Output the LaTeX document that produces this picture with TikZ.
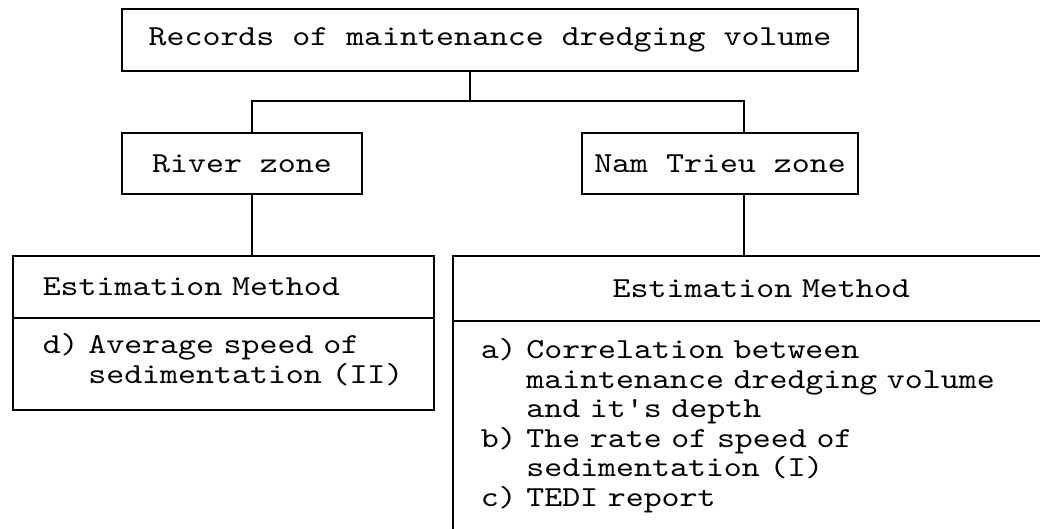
\documentclass[tikz,border=0pt]{standalone}
\usepackage{fontspec}
\setmonofont{lmmono10-regular.otf}[FakeStretch=1.18]
\begin{document}
\begin{tikzpicture}[x=1pt, y=-1pt,
    box/.style={draw, line width=1.5pt, inner sep=0pt},
    link/.style={line width=1.5pt},
    font=\ttfamily\fontsize{29}{29.5}\selectfont]
    % Frame of the chart
    \clip[use as bounding box] (0,0) rectangle (1040,528);

    % Records and the two zones
    \node[box, minimum width=736pt, minimum height=62pt] (records) at (490,40) {Records of maintenance dredging volume};
    \node[box, minimum width=240pt, minimum height=61pt] (river) at (242,163.5) {River zone};
    \node[box, minimum width=276pt, minimum height=61pt] (nam) at (720,163.5) {Nam Trieu zone};

    % Estimation methods, river zone
    \node[box, anchor=north west, minimum height=62pt, text width=361pt, inner xsep=30pt, align=left] (methodL) at (12,255) {Estimation Method};
    \node[box, anchor=north west, text width=361pt, inner xsep=30pt, text height=36pt, text depth=56pt, align=left] (listL) at (12,317)
        {d) Average speed of\\\hphantom{d) }\mbox{sedimentation (II)}};

    % Estimation methods, Nam Trieu zone
    \node[box, anchor=north west, minimum height=65pt, text width=561pt, inner xsep=28pt, align=center] (methodR) at (452,255) {Estimation Method};
    \node[box, anchor=north west, text width=561pt, inner xsep=28pt, text height=38pt, text depth=250pt, align=left] (listR) at (452,320)
        {a) Correlation between\\\hphantom{a) }maintenance dredging volume\\\hphantom{a) }and it's depth\\
         b) The rate of speed of\\\hphantom{b) }sedimentation (I)\\c) TEDI report};

    % Branch lines
    \coordinate (fork) at (470,101);
    \coordinate (forkL) at (252,101);
    \coordinate (forkR) at (744,101);
    \draw[link] (fork |- records.south) -- (fork);
    \draw[link] (forkL |- river.north) -- (forkL) -- (forkR) -- (forkR |- nam.north);
    \draw[link] (forkL |- river.south) -- (forkL |- methodL.north);
    \draw[link] (forkR |- nam.south) -- (forkR |- methodR.north);
\end{tikzpicture}
\end{document}
